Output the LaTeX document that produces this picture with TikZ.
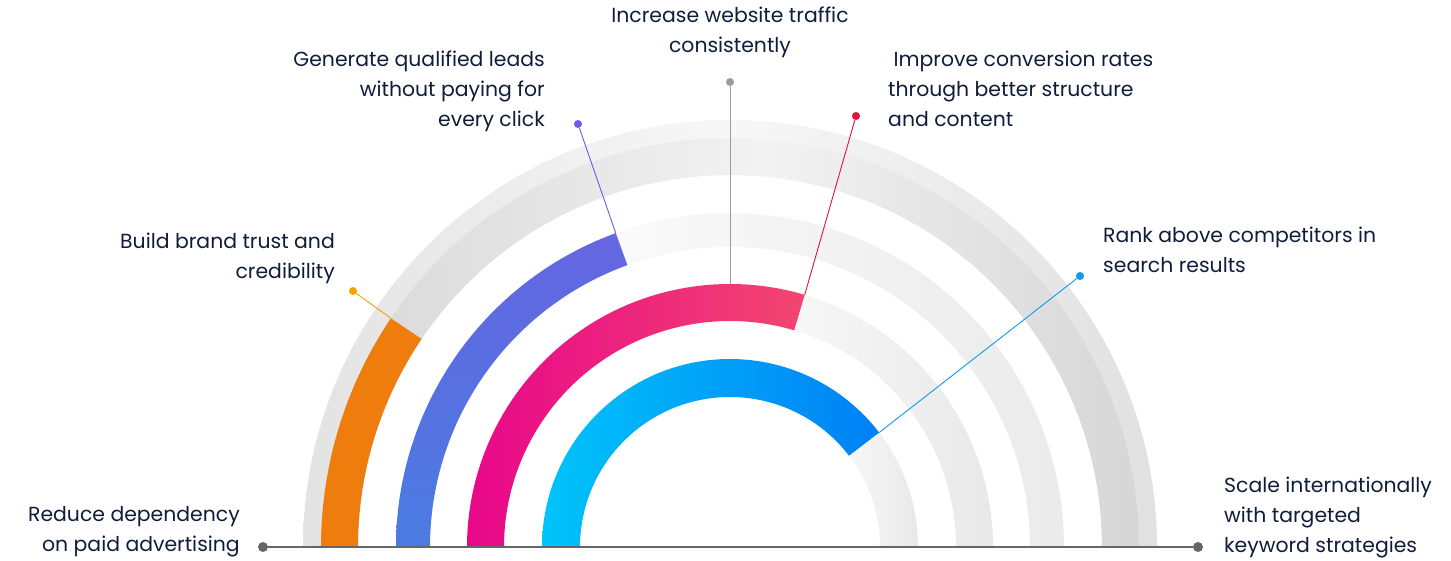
\documentclass[tikz,border=0pt]{standalone}
\usepackage{fontspec}
\setmainfont{Poppins}
\usetikzlibrary{positioning}
\definecolor{navy}{HTML}{0F1D3A}
\definecolor{lineGrey}{HTML}{666666}
\definecolor{leadGrey}{HTML}{9C9C9C}
\definecolor{orangeRing}{HTML}{EE7D0E}
\definecolor{orangeLead}{HTML}{F5A300}
\definecolor{blueLow}{HTML}{4A7BE2}
\definecolor{blueHigh}{HTML}{6566E0}
\definecolor{violetLead}{HTML}{6B5CE7}
\definecolor{pinkLeft}{HTML}{E8078A}
\definecolor{pinkRight}{HTML}{F2466F}
\definecolor{redLead}{HTML}{E8103A}
\definecolor{cyanLeft}{HTML}{00C4FA}
\definecolor{cyanRight}{HTML}{0080F5}
\definecolor{skyLead}{HTML}{0E9BEF}
% band of a ring: start angle, end angle, inner radius, outer radius
\newcommand{\ringband}[4]{(#1:#3) arc[start angle=#1, end angle=#2, radius=#3] -- (#2:#4) arc[start angle=#2, end angle=#1, radius=#4] -- cycle}
\begin{document}
\begin{tikzpicture}[x=1pt, y=1pt,
    dot/.style={shape=circle, inner sep=0pt, minimum size=8pt, fill=#1},
    lead/.style={line width=0.9pt, color=#1},
    lbl/.style={inner sep=0pt, text=navy, font=\fontsize{20.4}{30}\selectfont}
  ]
  \useasboundingbox (0,0) rectangle (1451,560);
  \begin{scope}[shift={(730,13)}]
    % grey tracks
    \shade [left color=black!11, right color=black!12, middle color=black!3] \ringband{0}{180}{372}{427};
    \shade [left color=black!14, right color=black!16, middle color=black!5] \ringband{0}{146}{372}{409};
    \shade [left color=black!2, right color=black!8] \ringband{0}{110}{300}{334};
    \shade [left color=black!3, right color=black!9] \ringband{0}{73.5}{226}{263};
    \shade [left color=black!3, right color=black!9] \ringband{0}{37.5}{150}{188};
    % coloured parts
    \fill [orangeRing] \ringband{146}{180}{372}{409};
    \shade [bottom color=blueLow, top color=blueHigh] \ringband{110}{180}{300}{334};
    \shade [left color=pinkLeft, right color=pinkRight] \ringband{73.5}{180}{226}{263};
    \shade [left color=cyanLeft, right color=cyanRight] \ringband{37.5}{180}{150}{188};
    % ends of the bands
    \coordinate (brandEnd) at (146:409);
    \coordinate (leadsEnd) at (110:334);
    \coordinate (trafficEnd) at (90:263);
    \coordinate (convEnd) at (73.5:263);
    \coordinate (rankEnd) at (37.5:188);
  \end{scope}

  % dots
  \node [dot=lineGrey, minimum size=10pt] (paidDot) at (263,13) {};
  \node [dot=lineGrey, minimum size=10pt] (scaleDot) at (1198,13) {};
  \node [dot=orangeLead] (brandDot) at (353,269) {};
  \node [dot=violetLead] (leadsDot) at (578,436) {};
  \node [dot=leadGrey] (trafficDot) at (730,478) {};
  \node [dot=redLead] (convDot) at (856,444) {};
  \node [dot=skyLead] (rankDot) at (1080,284) {};

  % leaders
  \draw [line width=2pt, lineGrey] (paidDot) -- (scaleDot);
  \draw [lead=orangeLead] (brandDot) -- (brandEnd);
  \draw [lead=violetLead] (leadsDot) -- (leadsEnd);
  \draw [lead=leadGrey] (trafficDot) -- (trafficEnd);
  \draw [lead=redLead] (convDot) -- (convEnd);
  \draw [lead=skyLead] (rankDot) -- (rankEnd);

  % labels
  \node [lbl, align=right, anchor=north east] (paidText) at (240,54) {Reduce dependency\\on paid advertising};
  \node [lbl, align=right, anchor=north east] (brandText) at (335,327) {Build brand trust and\\credibility};
  \node [lbl, align=right, anchor=north east] (leadsText) at (545,509) {Generate qualified leads\\without paying for\\every click};
  \node [lbl, align=center, anchor=north] (trafficText) at (730,553) {Increase website traffic\\consistently};
  \node [lbl, align=left, anchor=north west] (convText) at (888,509) {\ Improve conversion rates\\through better structure\\and content};
  \node [lbl, align=left, anchor=north west] (rankText) at (1103,333) {Rank above competitors in\\search results};
  \node [lbl, align=left, anchor=north west] (scaleText) at (1224,83) {Scale internationally\\with targeted\\keyword strategies};
\end{tikzpicture}
\end{document}
